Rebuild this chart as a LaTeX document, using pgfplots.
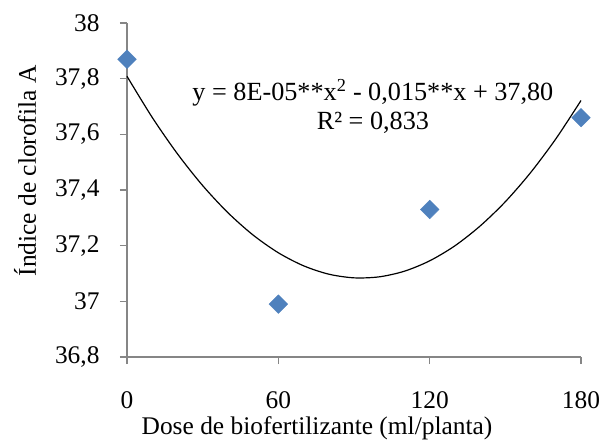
\documentclass[border=0pt]{standalone}
\usepackage{pgfplots}
\pgfplotsset{compat=1.18}
\usepackage{fontspec}
\setmainfont{Liberation Serif}
\definecolor{mblue}{HTML}{4F81BD}
\definecolor{axgray}{HTML}{868686}
\begin{document}
\begin{tikzpicture}
\useasboundingbox (-127bp,-83bp) rectangle (477bp,357bp);
\begin{axis}[
  at={(0,0)}, anchor=south west,
  scale only axis, width=454bp, height=334bp,
  xmin=0, xmax=180, ymin=36.8, ymax=38,
  xtick={0,60,120,180},
  ytick={36.8,37,37.2,37.4,37.6,37.8,38},
  axis lines*=left,
  axis line style={-, draw=axgray, line width=1.3pt},
  tick style={draw=axgray, line width=1.3pt},
  tick align=outside,
  major tick length=7bp,
  clip=false,
  /pgf/number format/.cd, use comma, fixed, precision=1, assume math mode=true,
  /pgfplots/.cd,
  tick label style={font=\fontsize{25.5}{30}\selectfont},
  label style={font=\fontsize{25.5}{30}\selectfont},
  yticklabel style={anchor=east, xshift=-17bp},
  xticklabel style={anchor=north, yshift=-24bp},
  xlabel={Dose de biofertilizante (ml/planta)},
  ylabel={Índice de clorofila A},
  xlabel style={at={(axis description cs:0.4185,-0.2126)}, anchor=center},
  ylabel style={at={(axis description cs:-0.2247,0.557)}, anchor=center},
]
\addplot[black, line width=1.2pt, smooth, no marks] coordinates {
(0,37.8085) (10,37.6608) (20,37.5300) (30,37.4159) (40,37.3186) (50,37.2381)
(60,37.1745) (70,37.1277) (80,37.0976) (90,37.0844) (100,37.0880) (110,37.1083)
(120,37.1455) (130,37.1995) (140,37.2706) (150,37.3579) (160,37.4623)
(170,37.5835) (180,37.7215)
};
\addplot[only marks, mark=square*, mark size=6.6bp, mark options={rotate=45, fill=mblue, draw=mblue}] coordinates {
(0,37.87) (60,36.99) (120,37.33) (180,37.66)
};
\node[align=center, font=\fontsize{26.3}{30}\selectfont] at (axis cs:97.5,37.70)
  {y = 8E-05**x\textsuperscript{2} - 0,015**x + 37,80\\R² = 0,833};
\end{axis}
\end{tikzpicture}
\end{document}
